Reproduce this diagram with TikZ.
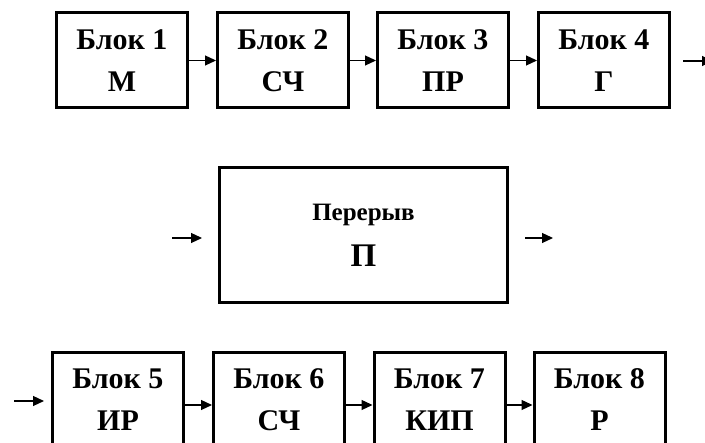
\documentclass[tikz,border=0pt]{standalone}
\usepackage{fontspec}
\setmainfont{Liberation Serif}
\usetikzlibrary{arrows.meta}
\begin{document}
\begin{tikzpicture}[x=1pt,y=-1pt,
  blk/.style={draw,line width=3pt,minimum width=131pt,minimum height=95pt,inner sep=0pt,align=center,font=\bfseries\fontsize{30}{42}\selectfont},
  big/.style={draw,line width=3pt,minimum width=288pt,minimum height=135pt,inner sep=0pt,align=center},
  arr/.style={line width=1.2pt,-{Triangle[length=11pt,width=10pt]}}]
\clip (0,0) rectangle (705,443);
\fill[white] (0,0) rectangle (705,443);
\node[blk] (b1) at (122,60.5) {Блок 1\\М};
\node[blk] (b2) at (283,60.5) {Блок 2\\СЧ};
\node[blk] (b3) at (443,60.5) {Блок 3\\ПР};
\node[blk] (b4) at (604,60.5) {Блок 4\\Г};
\coordinate (o1a) at (683,61);
\coordinate (o1b) at (713,61);
\draw[arr] (b1) -- (b2);
\draw[arr] (b2) -- (b3);
\draw[arr] (b3) -- (b4);
\draw[arr] (o1a) -- (o1b);
\node[big] (p) at (363.5,235) {{\bfseries\fontsize{25}{25}\selectfont Перерыв}\\[18pt]{\bfseries\fontsize{33}{33}\selectfont П}};
\coordinate (pin) at (172,238);
\coordinate (pine) at (202,238);
\coordinate (pouts) at (525,238);
\coordinate (pout) at (553,238);
\draw[arr] (pin) -- (pine);
\draw[arr] (pouts) -- (pout);
\node[blk] (b5) at (118,400) {Блок 5\\ИР};
\node[blk] (b6) at (279,400) {Блок 6\\СЧ};
\node[blk] (b7) at (439.5,400) {Блок 7\\КИП};
\node[blk] (b8) at (599.5,400) {Блок 8\\Р};
\coordinate (i5) at (14,401);
\coordinate (i5e) at (44,401);
\draw[arr] (i5) -- (i5e);
\draw[arr] ([yshift=-5pt]b5.east) -- ([yshift=-5pt]b6.west);
\draw[arr] ([yshift=-5pt]b6.east) -- ([yshift=-5pt]b7.west);
\draw[arr] ([yshift=-5pt]b7.east) -- ([yshift=-5pt]b8.west);
\end{tikzpicture}
\end{document}
